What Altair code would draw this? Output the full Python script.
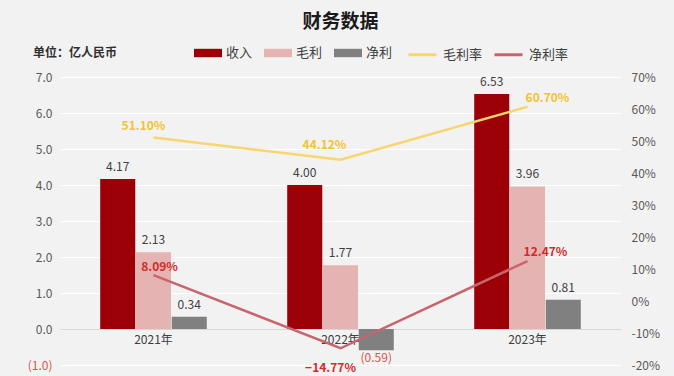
import altair as alt
import pandas as pd

years = ["2021年", "2022年", "2023年"]
revenue = [4.17, 4.00, 6.53]
gross_profit = [2.13, 1.77, 3.96]
net_profit = [0.34, -0.59, 0.81]
gross_margin = [51.10, 44.12, 60.70]
net_margin = [8.09, -14.77, 12.47]

bar_series = ["收入", "毛利", "净利"]
line_series = ["毛利率", "净利率"]
left_ticks = [-1, 0, 1, 2, 3, 4, 5, 6, 7]
right_ticks = [-20, -10, 0, 10, 20, 30, 40, 50, 60, 70]

title_text = "财务数据"
unit_text = "单位：亿人民币"

FONT = "Noto Sans CJK SC"
bar_colors = ["#9c0006", "#e6b3b3", "#808080"]
line_colors = ["#f9d56e", "#c8646c"]
NEG = "#d9534f"

rows = []
for s, vals in zip(bar_series, [revenue, gross_profit, net_profit]):
    for y, v in zip(years, vals):
        rows.append({"year": y, "series": s, "value": v})
bar_df = pd.DataFrame(rows)

rows = []
for s, vals in zip(line_series, [gross_margin, net_margin]):
    for y, v in zip(years, vals):
        rows.append({"year": y, "series": s, "value": v})
line_df = pd.DataFrame(rows)

xscale = alt.Scale(domain=years, paddingInner=0.43, paddingOuter=0.215)
x_enc = alt.X(
    "year:N",
    scale=xscale,
    sort=years,
    axis=alt.Axis(
        title=None, orient="bottom", offset=-36, domain=False, ticks=False,
        labelPadding=5, labelFontSize=12, labelColor="#404040", labelAngle=0,
        labelFont=FONT, grid=False,
    ),
)
xoff = alt.XOffset("series:N", sort=bar_series, scale=alt.Scale(domain=bar_series, paddingInner=0.02))

yleft = alt.Y(
    "value:Q",
    scale=alt.Scale(domain=[-1, 7], nice=False, zero=False),
    axis=alt.Axis(
        title=None, values=left_ticks, domain=False, ticks=False,
        labelExpr="datum.value < 0 ? '(' + format(-datum.value, '.1f') + ')' : format(datum.value, '.1f')",
        labelColor={"condition": {"test": "datum.value < 0", "value": NEG}, "value": "#595959"},
        labelFontSize=12, labelPadding=8, labelFont=FONT,
        gridColor={"condition": {"test": "datum.value === 0", "value": "#d6d6d6"}, "value": "#ffffff"},
        gridWidth=1.2,
    ),
)

base_bar = alt.Chart(bar_df).encode(x=x_enc, xOffset=xoff, y=yleft)

bars = base_bar.mark_bar().encode(
    fill=alt.Fill(
        "series:N",
        scale=alt.Scale(domain=bar_series, range=bar_colors),
        legend=alt.Legend(
            orient="none", legendX=134, legendY=-38, direction="horizontal", title=None,
            symbolType="M-1,-0.3H1V0.3H-1Z", symbolSize=784, symbolStrokeWidth=0,
            labelFontSize=13, labelColor="#404040", labelFont=FONT, labelOffset=4,
            columnPadding=11,
        ),
    )
)

label_expr = "datum.value < 0 ? '(' + format(-datum.value, '.2f') + ')' : format(datum.value, '.2f')"
bar_text_pos = base_bar.transform_filter("datum.value >= 0").transform_calculate(
    label=label_expr
).mark_text(baseline="middle", dy=-12, fontSize=12, color="#404040", font=FONT).encode(
    text="label:N"
)
bar_text_neg = base_bar.transform_filter("datum.value < 0").transform_calculate(
    label=label_expr
).mark_text(baseline="middle", dy=8, fontSize=12, color=NEG, font=FONT).encode(
    text="label:N"
)

bar_layer = alt.layer(bars, bar_text_pos, bar_text_neg)

yright = alt.Y(
    "value:Q",
    scale=alt.Scale(domain=[-20, 70], nice=False, zero=False),
    axis=alt.Axis(
        title=None, orient="right", values=right_ticks, domain=False, ticks=False,
        grid=False, labelExpr="datum.value + '%'", labelColor="#595959",
        labelFontSize=12, labelPadding=10, labelFont=FONT,
    ),
)

base_line = alt.Chart(line_df).encode(x=x_enc, y=yright)
lines = base_line.mark_line(strokeWidth=2.5).encode(
    stroke=alt.Stroke(
        "series:N",
        scale=alt.Scale(domain=line_series, range=line_colors),
        legend=alt.Legend(
            orient="none", legendX=347, legendY=-38, direction="horizontal", title=None,
            symbolType="stroke", symbolSize=784, symbolStrokeWidth=3,
            labelFontSize=13, labelColor="#404040", labelFont=FONT, labelOffset=5,
            columnPadding=5,
        ),
    ),
    detail="series:N",
)

offsets = {
    "毛利率": {"2021年": (-10, -11), "2022年": (-16, -15), "2023年": (20, -9)},
    "净利率": {"2021年": (6, -8), "2022年": (-10, 20), "2023年": (18, -9)},
}
label_colors = {"毛利率": "#f2c230", "净利率": "#d42a2a"}

line_texts = []
for s in line_series:
    for y in years:
        dx, dy = offsets[s][y]
        t = base_line.transform_filter(
            (alt.datum.series == s) & (alt.datum.year == y)
        ).transform_calculate(
            label="format(datum.value, '.2f') + '%'"
        ).mark_text(
            dx=dx, dy=dy, fontSize=12, fontWeight="bold", color=label_colors[s], font=FONT
        ).encode(text="label:N")
        line_texts.append(t)

line_layer = alt.layer(lines, *line_texts)

unit = alt.Chart(pd.DataFrame({"t": [unit_text]})).mark_text(
    align="left", baseline="middle", fontSize=12, fontWeight="bold", color="#303030", font=FONT
).encode(x=alt.value(-27), y=alt.value(-24), text="t:N")

chart = alt.layer(bar_layer, line_layer, unit).resolve_scale(
    y="independent"
).properties(
    width=561,
    height=288,
    title=alt.Title(title_text, fontSize=19, fontWeight="bold", color="#1a1a1a",
                    anchor="middle", font=FONT, offset=7),
    autosize=alt.AutoSizeParams(type="none"),
    padding={"left": 60, "top": 77, "right": 53, "bottom": 11},
).configure(
    background="#f2f2f2",
).configure_view(stroke=None)

chart.save("out.html", embed_options={"renderer": "svg", "actions": False})
